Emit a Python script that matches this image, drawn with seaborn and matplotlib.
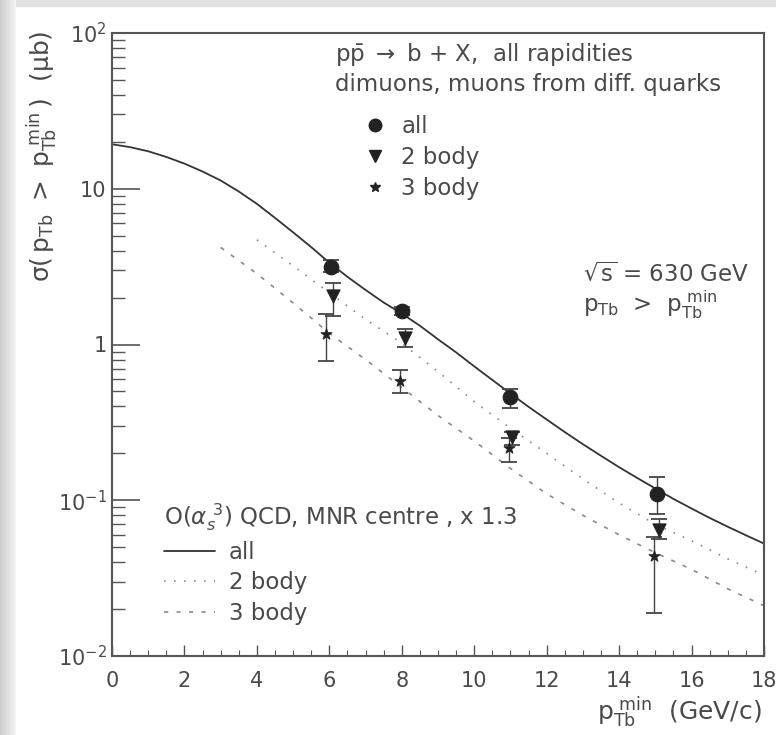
import numpy as np
import pandas as pd
import matplotlib
matplotlib.use("Agg")
import matplotlib.pyplot as plt
import seaborn as sns
from matplotlib.lines import Line2D
from matplotlib.ticker import MultipleLocator, LogLocator, NullFormatter, FixedLocator

# ---------------- data ----------------
# measured points: x = p_Tb^min (GeV/c), y = sigma (micro-barn)
x_all = [6.05, 8.0, 11.0, 15.05]
y_all = [3.15, 1.65, 0.457, 0.110]
lo_all = [2.90, 1.55, 0.394, 0.082]
hi_all = [3.50, 1.75, 0.520, 0.140]

x_2b = [6.1, 8.1, 11.05, 15.1]
y_2b = [2.06, 1.10, 0.253, 0.064]
lo_2b = [1.53, 0.96, 0.228, 0.056]
hi_2b = [2.47, 1.25, 0.275, 0.076]

x_3b = [5.9, 7.95, 10.95, 14.95]
y_3b = [1.16, 0.587, 0.218, 0.044]
lo_3b = [0.78, 0.49, 0.175, 0.0188]
hi_3b = [1.58, 0.69, 0.250, 0.058]

# QCD curves
cx_all = [0, 0.5, 1, 1.5, 2, 2.5, 3, 3.5, 4, 4.5, 5, 5.5, 6, 6.5, 7, 7.5, 8, 8.5,
          9, 9.5, 10, 10.5, 11, 11.5, 12, 12.5, 13, 13.5, 14, 14.5, 15, 15.5,
          16, 16.5, 17, 17.5, 18]
cy_all = [19.3, 18.5, 17.4, 16.0, 14.5, 12.9, 11.3, 9.6, 8.0, 6.5, 5.25, 4.22,
          3.35, 2.72, 2.24, 1.86, 1.58, 1.32, 1.08, 0.89, 0.724, 0.592, 0.484,
          0.398, 0.330, 0.274, 0.229, 0.193, 0.163, 0.139, 0.119, 0.102, 0.0885,
          0.077, 0.0676, 0.0596, 0.0527]
cx_2b = [4, 5, 6, 7, 8, 9, 10, 11, 12, 13, 14, 15, 16, 17, 18]
cy_2b = [4.7, 3.2, 2.15, 1.45, 1.02, 0.67, 0.43, 0.29, 0.20, 0.137, 0.096,
         0.070, 0.055, 0.042, 0.033]
cx_3b = [3, 4, 5, 6, 7, 8, 9, 10, 11, 12, 13, 14, 15, 16, 17, 18]
cy_3b = [4.2, 2.85, 1.85, 1.18, 0.80, 0.53, 0.35, 0.24, 0.16, 0.11, 0.080,
         0.060, 0.046, 0.036, 0.027, 0.021]

xticks = [0, 2, 4, 6, 8, 10, 12, 14, 16, 18]
yticks = [1e-2, 1e-1, 1, 10, 100]
ytick_labels = [r"$10^{-2}$", r"$10^{-1}$", "1", "10", r"$10^{2}$"]

# ---------------- style ----------------
sns.set_style("ticks")
plt.rcParams["font.family"] = ["DejaVu Sans"]
plt.rcParams["mathtext.fontset"] = "dejavusans"
TXT = "#4a4a4a"
INK = "#222222"
FS = 16.5

W, H = 776, 735
fig = plt.figure(figsize=(W / 100, H / 100), dpi=100)
fig.patch.set_facecolor("white")

# scanned-page border (grey strips)
bax = fig.add_axes([0, 0, 16 / W, 1])
grad = np.linspace(0, 1, 64)[None, :]
bax.imshow(grad, aspect="auto", cmap=matplotlib.colors.LinearSegmentedColormap.from_list(
    "g", ["#cdcdcd", "#f4f4f4"]), extent=[0, 1, 0, 1])
bax.set_axis_off()
fig.add_artist(plt.Rectangle((0, 1 - 6 / H), 1, 6 / H, transform=fig.transFigure,
                             color="#e2e2e2", zorder=0))

ax = fig.add_axes([112 / W, 1 - 656 / H, 652 / W, 623 / H])
ax.set_facecolor("white")

LS2 = (0, (1, 5))
LS3 = (0, (2.5, 5))
# curves
sns.lineplot(x=cx_all, y=cy_all, ax=ax, color="#333333", lw=1.3)
sns.lineplot(x=cx_2b, y=cy_2b, ax=ax, color="#8a8a8a", lw=1.2, linestyle=LS2)
sns.lineplot(x=cx_3b, y=cy_3b, ax=ax, color="#8a8a8a", lw=1.2, linestyle=LS3)

# error bars
for xs, ys, lo, hi in [(x_all, y_all, lo_all, hi_all), (x_2b, y_2b, lo_2b, hi_2b),
                       (x_3b, y_3b, lo_3b, hi_3b)]:
    ys_a = np.array(ys)
    ax.errorbar(xs, ys, yerr=[ys_a - np.array(lo), np.array(hi) - ys_a], fmt="none",
                ecolor="#444444", elinewidth=1.0, capsize=6, capthick=1.3)

# points
sns.scatterplot(x=x_all, y=y_all, ax=ax, marker="o", s=110, color=INK, edgecolor=INK, zorder=5)
sns.scatterplot(x=x_2b, y=y_2b, ax=ax, marker="v", s=90, color=INK, edgecolor=INK, zorder=5)
sns.scatterplot(x=x_3b, y=y_3b, ax=ax, marker="*", s=70, color=INK, edgecolor=INK, zorder=5)

# axes
ax.set_yscale("log")
ax.set_xlim(0, 18)
ax.set_ylim(1e-2, 1e2)
ax.xaxis.set_major_locator(FixedLocator(xticks))
ax.xaxis.set_minor_locator(MultipleLocator(0.5))
ax.set_xticklabels([str(t) for t in xticks])
ax.yaxis.set_major_locator(FixedLocator(yticks))
ax.set_yticklabels(ytick_labels)
ax.yaxis.set_minor_locator(LogLocator(base=10, subs=np.arange(2, 10)))
ax.yaxis.set_minor_formatter(NullFormatter())
ax.tick_params(axis="both", which="both", direction="in", colors="#555555",
               labelcolor=TXT, labelsize=15)
ax.tick_params(axis="y", which="major", length=20, width=1.2, pad=4)
ax.tick_params(axis="y", which="minor", length=9, width=1.0)
ax.tick_params(axis="x", which="major", length=8, width=1.0, pad=11)
ax.tick_params(axis="x", which="minor", length=4, width=0.8)
for s in ax.spines.values():
    s.set_visible(True)
    s.set_color("#555555")
    s.set_linewidth(1.5)
ax.set_xlabel("")
ax.set_ylabel("")

# axis titles
fig.text(762 / W, 1 - 712 / H, r"$\mathregular{p_{Tb}^{\ min}}$  (GeV/c)", ha="right",
         va="center", fontsize=18, color=TXT)
fig.text(42 / W, 1 - 30 / H,
         r"$\mathregular{\sigma(\,p_{Tb}\ >\ p_{Tb}^{\ min}\,)}$  ($\mathregular{\mu}$b)",
         rotation=90, ha="center", va="top", fontsize=18, color=TXT)

# upper annotation
fig.text(335 / W, 1 - 54 / H, r"p$\bar{\mathrm{p}}$ $\rightarrow$ b + X,  all rapidities",
         ha="left", va="center", fontsize=FS, color=TXT)
fig.text(335 / W, 1 - 85 / H, "dimuons, muons from diff. quarks", ha="left", va="center",
         fontsize=FS, color=TXT)

h_pts = [Line2D([], [], marker="o", ls="none", color=INK, ms=9),
         Line2D([], [], marker="v", ls="none", color=INK, ms=8),
         Line2D([], [], marker="*", ls="none", color=INK, ms=7)]
leg1 = ax.legend(h_pts, ["all", "2 body", "3 body"], loc="upper left",
                 bbox_to_anchor=(352 / W, 1 - 104 / H), bbox_transform=fig.transFigure,
                 frameon=False, fontsize=FS, handlelength=1.0, handletextpad=0.65,
                 labelspacing=0.33, borderpad=0, labelcolor=TXT)
ax.add_artist(leg1)

fig.text(583 / W, 1 - 274 / H, r"$\mathregular{\sqrt{s}}$ = 630 GeV", ha="left", va="center",
         fontsize=FS, color=TXT)
fig.text(583 / W, 1 - 305 / H, r"$\mathregular{p_{Tb}}$  >  $\mathregular{p_{Tb}^{\ min}}$",
         ha="left", va="center", fontsize=FS, color=TXT)

h_lines = [Line2D([], [], color="#333333", lw=1.3),
           Line2D([], [], color="#8a8a8a", lw=1.2, linestyle=LS2),
           Line2D([], [], color="#8a8a8a", lw=1.2, linestyle=LS3)]
leg2 = ax.legend(h_lines, ["all", "2 body", "3 body"], loc="upper left",
                 title=r"O($\alpha_s^{\ 3}$) QCD, MNR centre , x 1.3",
                 bbox_to_anchor=(153 / W, 1 - 490 / H), bbox_transform=fig.transFigure,
                 frameon=False, fontsize=FS, title_fontsize=FS, handlelength=2.2,
                 handletextpad=0.6, labelspacing=0.33, borderpad=0, labelcolor=TXT,
                 alignment="left")
leg2.get_title().set_color(TXT)

fig.savefig("out.png", dpi=100)
